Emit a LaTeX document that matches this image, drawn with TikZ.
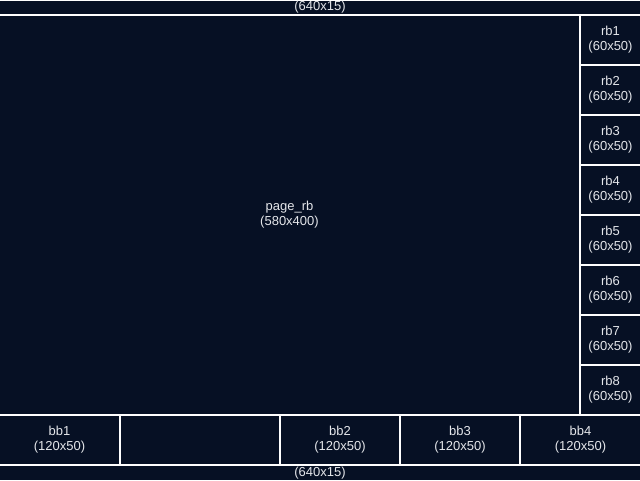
\documentclass[tikz,border=0pt]{standalone}
\usepackage{fontspec}
\setmainfont{Liberation Sans}
\usetikzlibrary{positioning}
\definecolor{panelbg}{HTML}{061024}
\definecolor{paneltext}{HTML}{E4E6EA}
\tikzset{%
    base/.style = {
        rectangle, draw=white, line width=2pt, fill=panelbg,
        inner sep=0pt, outer sep=0pt, text=paneltext, align=center,
        font=\fontsize{13}{15}\selectfont
    },
    bar/.style = {base, minimum width=642pt, minimum height=16pt},
    page/.style = {base, minimum width=581pt, minimum height=400pt},
    sidebox/.style = {base, minimum width=61pt, minimum height=50pt},
    bottombox/.style = {base, minimum width=120pt, minimum height=50pt},
}
\begin{document}
\begin{tikzpicture}[x=1pt, y=-1pt]
        \fill[panelbg] (0,0) rectangle (640,480);
        \useasboundingbox (0,0) rectangle (640,480);

        % Nodes position
        \node (topBar)    [bar] at (320,7.5)     {(640x15)};
        \node (pageRb)    [page] at (289.5,215)  {page\_rb\\(580x400)};

        \node (rb1)       [sidebox] at (610.5,40)  {rb1\\(60x50)};
        \node (rb2)       [sidebox] at (610.5,90)  {rb2\\(60x50)};
        \node (rb3)       [sidebox] at (610.5,140) {rb3\\(60x50)};
        \node (rb4)       [sidebox] at (610.5,190) {rb4\\(60x50)};
        \node (rb5)       [sidebox] at (610.5,240) {rb5\\(60x50)};
        \node (rb6)       [sidebox] at (610.5,290) {rb6\\(60x50)};
        \node (rb7)       [sidebox] at (610.5,340) {rb7\\(60x50)};
        \node (rb8)       [sidebox] at (610.5,390) {rb8\\(60x50)};

        \node (bb1)       [bottombox, minimum width=121pt] at (59.5,440) {bb1\\(120x50)};
        \node (bbGap)     [bottombox, minimum width=160pt] at (200,440)  {};
        \node (bb2)       [bottombox] at (340,440) {bb2\\(120x50)};
        \node (bb3)       [bottombox] at (460,440) {bb3\\(120x50)};
        \node (bb4)       [bottombox, minimum width=121pt] at (580.5,440) {bb4\\(120x50)};

        \node (bottomBar) [bar] at (320,473)     {(640x15)};
    \end{tikzpicture}
\end{document}
